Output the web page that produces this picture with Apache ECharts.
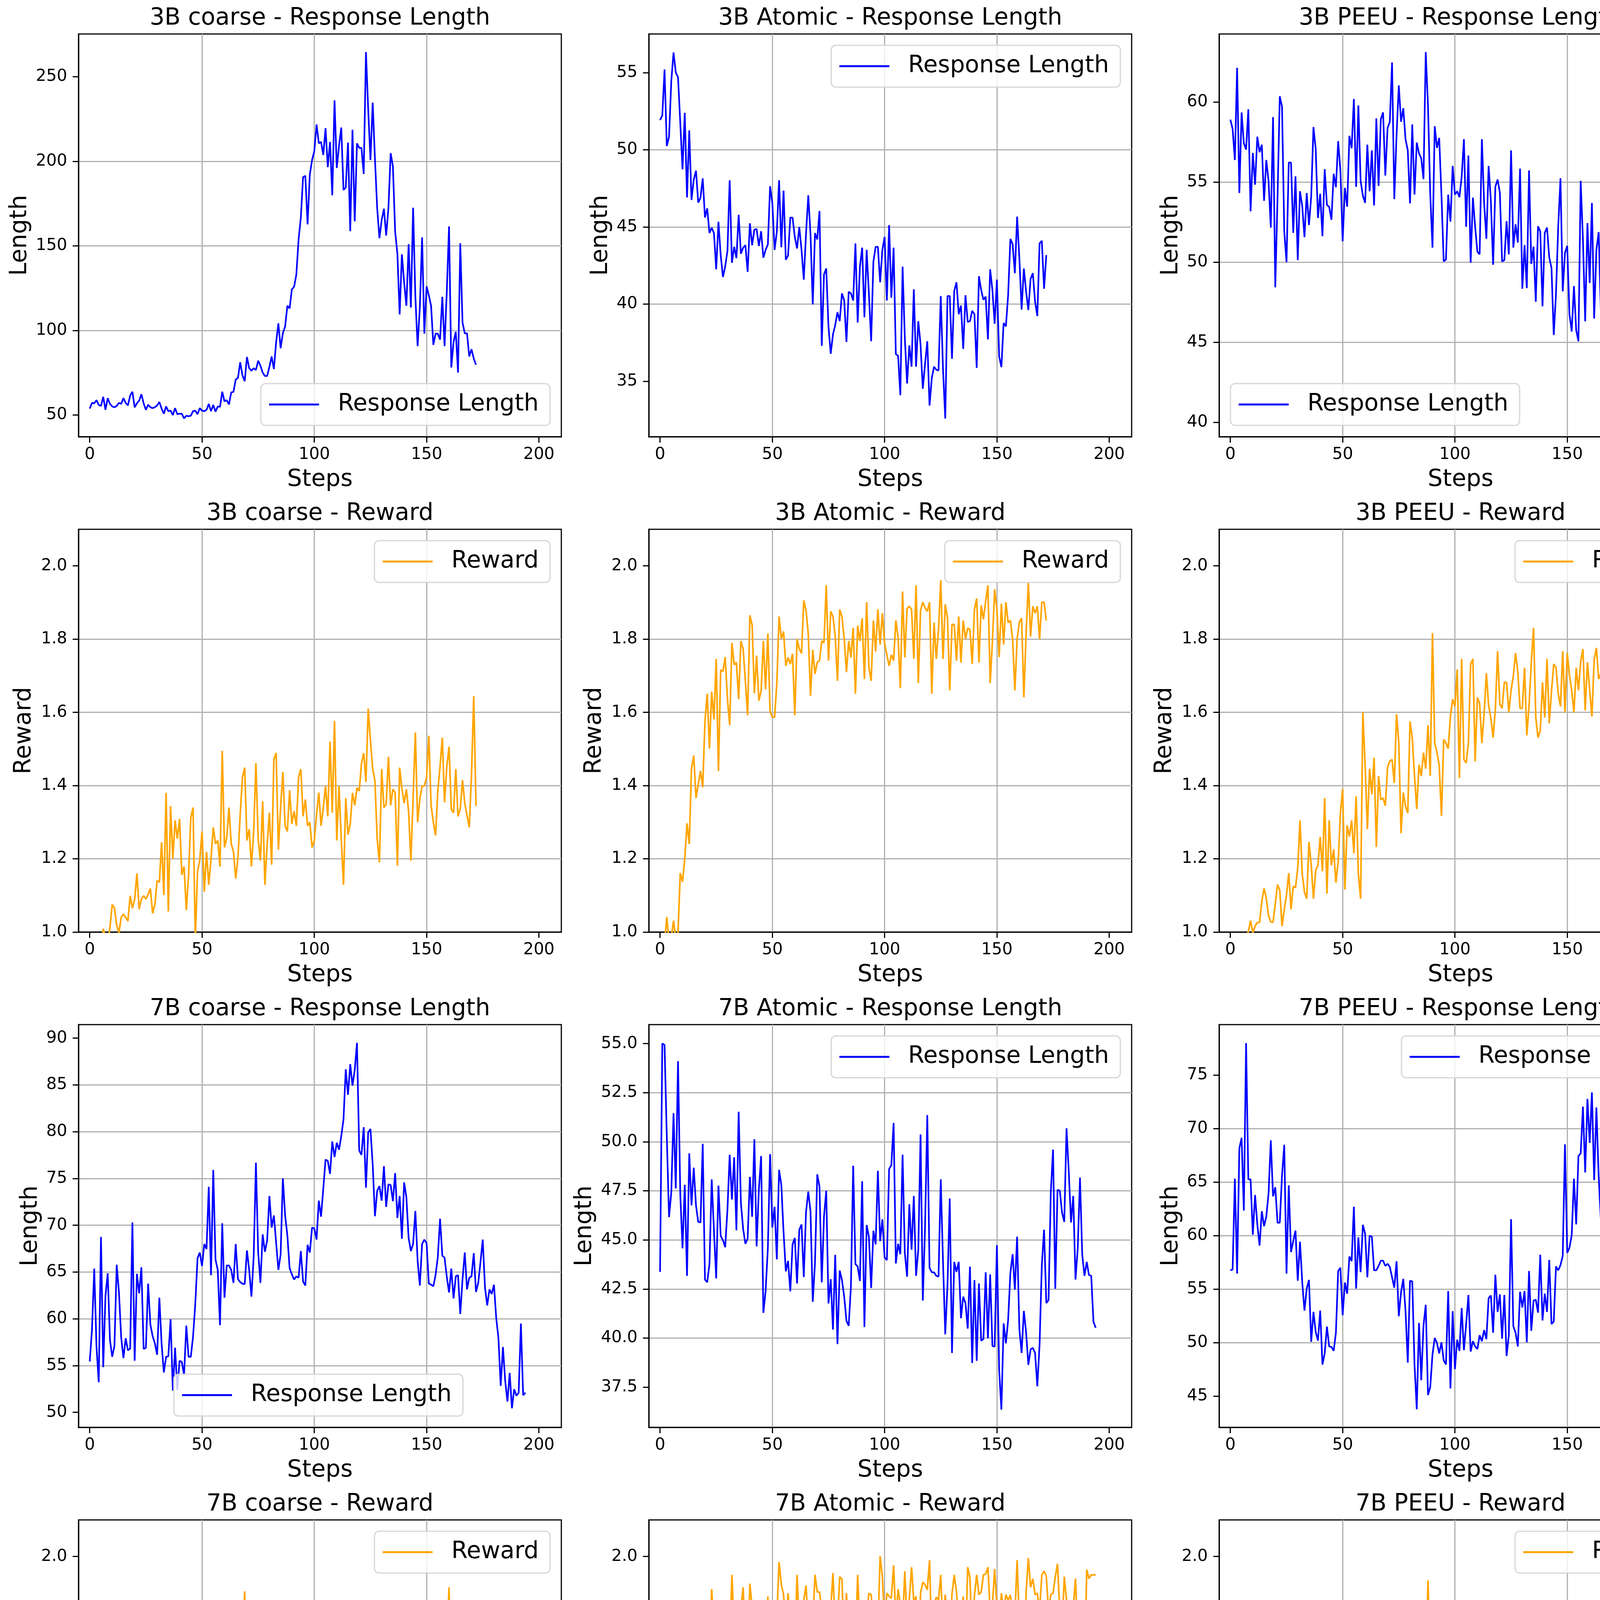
<!DOCTYPE html>
<html>
<head>
<meta charset="utf-8">
<title>Response Length and Reward</title>
<script src="https://cdn.jsdelivr.net/npm/echarts@6/dist/echarts.min.js"></script>
<style>
html, body { margin: 0; padding: 0; background: #fff; }
#main { width: 4374px; height: 5087px; }
</style>
</head>
<body>
<div id="main"></div>
<script>
// values, one entry per training step (x = index)
const rl3bCoarse = [
  53.8,57.2,56.9,58.8,56.0,55.4,60.8,53.1,60.0,56.6,
  55.1,54.6,55.4,57.2,56.6,60.0,57.2,55.7,61.6,63.8,
  54.6,56.9,58.5,62.3,56.9,53.1,56.1,54.6,54.1,54.6,
  55.7,57.7,53.8,50.8,55.1,52.3,52.6,50.0,54.1,50.5,
  50.8,50.8,48.0,49.6,49.3,49.6,52.3,52.6,50.5,54.1,
  52.6,52.3,53.1,56.6,52.3,56.0,52.0,55.1,54.8,63.8,
  58.1,58.8,56.3,63.4,63.7,71.0,72.0,81.2,73.5,70.0,
  84.3,77.7,76.2,77.7,76.6,82.1,79.2,75.1,73.1,73.1,
  78.5,84.6,77.2,93.0,104.2,89.5,98.4,102.3,114.6,113.0,
  124.3,125.8,133.0,153.8,166.8,190.6,191.4,162.7,192.2,200.7,
  206.0,221.7,210.6,211.4,203.7,219.6,196.5,211.4,179.9,236.0,
  196.0,209.1,219.9,183.0,184.5,211.0,158.7,218.6,164.5,210.6,
  207.9,207.9,192.5,264.5,230.6,200.7,234.6,201.5,172.2,154.5,
  165.3,171.9,156.1,172.2,204.8,196.9,158.4,145.3,109.5,144.9,
  128.4,114.6,151.0,113.5,172.5,119.9,90.7,113.8,155.0,98.1,
  126.1,120.7,114.6,91.5,98.1,98.1,94.6,119.9,90.7,123.0,
  161.5,78.1,93.0,99.2,75.1,151.5,104.7,98.3,98.3,84.6,
  88.9,83.4,79.7
];
const rl3bAtomic = [
  51.92,52.22,55.2,50.24,50.83,54.44,56.3,55.0,54.7,51.75,
  48.73,52.39,46.91,51.25,46.74,48.05,48.64,46.57,46.88,48.14,
  45.61,46.2,44.6,44.94,44.6,42.25,45.33,43.17,41.75,42.42,
  43.43,48.02,42.67,43.71,42.97,45.78,43.26,43.65,43.81,42.08,
  45.23,43.81,44.82,44.86,43.76,44.72,43.0,43.51,43.85,47.63,
  46.54,43.51,44.69,48.02,43.68,47.35,42.87,43.14,45.6,45.6,
  44.35,43.6,44.99,43.51,41.58,44.55,47.04,44.52,39.98,44.6,
  44.18,46.03,37.29,41.91,42.3,38.55,36.78,38.04,38.63,39.47,
  38.89,40.69,40.23,37.54,40.79,40.69,40.23,43.93,38.8,42.42,
  43.65,39.14,43.51,40.65,37.59,42.75,43.71,43.71,41.41,43.51,
  44.35,40.23,45.11,40.4,43.65,36.75,36.65,34.09,42.42,37.79,
  34.85,37.32,35.94,40.95,35.94,38.89,37.37,34.51,36.11,37.59,
  33.42,35.19,35.94,35.74,35.69,40.52,35.77,32.58,40.52,40.52,
  36.45,40.85,41.41,39.34,39.9,37.09,40.57,38.84,38.89,39.56,
  39.34,35.86,41.8,40.9,40.28,40.48,37.71,42.25,40.9,38.72,
  41.58,36.61,35.91,38.77,38.55,40.57,44.22,43.88,42.0,45.66,
  42.97,39.64,42.3,40.82,39.61,41.63,42.0,40.15,39.22,43.93,
  44.1,40.99,43.17
];
const rl3bPeeu = [
  58.9,58.33,56.38,62.14,54.32,59.35,57.44,57.03,59.55,53.18,
  56.82,54.84,57.84,56.87,57.34,53.83,56.38,55.08,52.16,59.06,
  48.43,54.03,60.36,59.71,51.92,50.0,56.22,56.22,51.83,55.36,
  50.13,54.43,53.51,51.56,54.32,52.32,54.11,58.44,57.08,52.76,
  54.27,51.62,55.81,53.57,53.46,52.65,55.52,54.68,57.56,55.73,
  51.3,54.64,53.46,57.89,57.11,60.19,54.71,59.79,55.08,54.16,
  53.7,57.34,54.43,56.98,53.54,58.98,54.76,58.93,59.35,55.41,
  58.38,58.77,62.47,53.94,57.92,61.04,58.77,59.61,57.68,56.98,
  53.67,58.6,54.22,57.47,56.79,56.49,55.19,63.12,59.79,54.27,
  50.91,58.49,57.14,57.76,54.19,50.05,50.16,54.22,52.53,56.01,
  54.22,54.43,54.06,55.32,57.68,52.21,56.66,49.97,54.03,52.21,
  50.65,50.49,57.68,53.7,51.46,56.01,53.83,49.84,54.71,55.16,
  54.35,50.05,50.13,52.56,50.49,56.98,50.91,52.37,51.23,55.84,
  48.34,51.07,48.38,55.73,49.89,50.97,47.53,52.24,51.92,47.24,
  51.83,52.16,50.29,49.64,45.45,48.02,52.24,55.24,48.18,50.58,
  51.02,46.75,45.67,48.51,45.75,45.06,55.08,51.43,46.31,52.44,
  48.7,53.7,46.48,50.78,51.88,46.85,49.35,52.27,55.0,47.89,
  48.38,51.51,45.18,50.54,48.1,51.4,44.69,47.21,42.79,44.16,
  43.02,45.71,43.67,45.5,45.02,43.83,41.93,43.51,41.85,41.53,
  40.26,44.77,46.56,44.12,40.47
];
const rw3bCoarse = [
  0.85,0.88,0.9,0.87,0.95,0.92,1.009,0.987,0.97,1.012,
  1.075,1.065,1.019,0.998,1.04,1.049,1.04,1.03,1.099,1.065,
  1.089,1.16,1.062,1.09,1.099,1.09,1.103,1.119,1.051,1.075,
  1.14,1.136,1.245,1.101,1.38,1.056,1.344,1.2,1.305,1.255,
  1.309,1.156,1.179,1.06,1.154,1.312,1.34,0.98,1.165,1.197,
  1.275,1.11,1.219,1.129,1.2,1.286,1.241,1.25,1.179,1.495,
  1.231,1.257,1.34,1.241,1.219,1.146,1.204,1.321,1.423,1.449,
  1.25,1.281,1.179,1.275,1.461,1.254,1.195,1.357,1.129,1.239,
  1.326,1.184,1.472,1.489,1.225,1.342,1.437,1.289,1.275,1.387,
  1.295,1.33,1.29,1.423,1.445,1.316,1.362,1.29,1.3,1.231,
  1.25,1.321,1.381,1.29,1.339,1.399,1.316,1.52,1.326,1.577,
  1.25,1.399,1.254,1.129,1.366,1.266,1.295,1.38,1.346,1.394,
  1.385,1.46,1.489,1.41,1.61,1.524,1.445,1.413,1.254,1.19,
  1.445,1.34,1.349,1.479,1.346,1.39,1.381,1.181,1.449,1.392,
  1.352,1.39,1.328,1.195,1.367,1.545,1.3,1.364,1.399,1.399,
  1.423,1.536,1.346,1.3,1.264,1.387,1.452,1.531,1.354,1.452,
  1.506,1.335,1.326,1.445,1.316,1.337,1.415,1.352,1.318,1.286,
  1.431,1.644,1.344
];
const rw3bAtomic = [
  0.93,0.96,0.97,1.041,0.97,0.985,1.031,0.98,1.0,1.161,
  1.137,1.201,1.297,1.24,1.446,1.482,1.366,1.403,1.44,1.395,
  1.577,1.651,1.501,1.656,1.581,1.746,1.44,1.716,1.712,1.751,
  1.638,1.565,1.79,1.73,1.736,1.636,1.795,1.773,1.684,1.592,
  1.865,1.838,1.652,1.755,1.632,1.658,1.795,1.663,1.815,1.602,
  1.587,1.587,1.68,1.862,1.801,1.821,1.727,1.75,1.732,1.76,
  1.592,1.8,1.773,1.761,1.906,1.878,1.815,1.645,1.771,1.705,
  1.737,1.741,1.795,1.79,1.947,1.741,1.876,1.862,1.807,1.686,
  1.881,1.862,1.801,1.71,1.795,1.75,1.831,1.651,1.837,1.795,
  1.857,1.691,1.901,1.723,1.686,1.851,1.766,1.881,1.785,1.871,
  1.788,1.757,1.727,1.757,1.741,1.851,1.805,1.666,1.93,1.75,
  1.883,1.89,1.881,1.746,1.947,1.68,1.878,1.901,1.885,1.876,
  1.901,1.651,1.845,1.746,1.826,1.961,1.746,1.895,1.857,1.66,
  1.84,1.84,1.741,1.862,1.736,1.851,1.8,1.83,1.826,1.732,
  1.881,1.911,1.736,1.892,1.854,1.904,1.947,1.68,1.794,1.936,
  1.881,1.751,1.897,1.785,1.901,1.845,1.851,1.8,1.66,1.8,
  1.847,1.857,1.641,1.814,1.954,1.807,1.89,1.871,1.89,1.8,
  1.901,1.901,1.851
];
const rw3bPeeu = [
  0.95,0.9,0.93,0.96,0.92,0.97,0.95,0.98,1.002,1.031,
  0.998,1.016,1.026,1.026,1.084,1.119,1.092,1.045,1.027,1.027,
  1.077,1.13,1.114,1.016,1.062,1.102,1.161,1.062,1.125,1.121,
  1.176,1.305,1.158,1.109,1.091,1.246,1.183,1.091,1.169,1.183,
  1.26,1.166,1.366,1.105,1.305,1.182,1.226,1.135,1.192,1.325,
  1.391,1.116,1.291,1.261,1.305,1.215,1.371,1.158,1.091,1.6,
  1.457,1.281,1.446,1.376,1.476,1.232,1.426,1.361,1.366,1.345,
  1.45,1.467,1.471,1.407,1.595,1.517,1.27,1.381,1.343,1.325,
  1.575,1.53,1.426,1.336,1.457,1.426,1.49,1.446,1.565,1.426,
  1.817,1.516,1.49,1.455,1.317,1.526,1.516,1.501,1.589,1.636,
  1.616,1.717,1.421,1.746,1.471,1.462,1.516,1.732,1.746,1.466,
  1.641,1.624,1.516,1.598,1.707,1.619,1.584,1.531,1.609,1.767,
  1.622,1.611,1.682,1.682,1.6,1.66,1.7,1.762,1.71,1.611,
  1.611,1.722,1.537,1.617,1.736,1.831,1.586,1.531,1.551,1.682,
  1.586,1.746,1.57,1.658,1.732,1.723,1.651,1.616,1.767,1.6,
  1.762,1.702,1.66,1.6,1.722,1.66,1.739,1.773,1.605,1.737,
  1.66,1.589,1.744,1.776,1.691,1.707,1.594,1.501,1.547,1.485,
  1.624,1.737,1.892,1.686,1.773,1.712,1.767,1.646,1.831,1.575,
  1.781,1.66,1.624,1.632,1.76,1.619,1.845,1.619,1.812,1.589,
  1.751,1.67,1.741,1.565,1.632
];
const rl7bCoarse = [
  55.44,58.85,65.37,57.05,53.22,68.75,54.83,62.46,64.87,57.74,
  55.94,57.1,65.78,62.87,58.02,55.8,57.93,56.63,56.82,70.3,
  55.52,64.81,62.73,65.51,56.77,56.91,63.76,59.4,58.16,57.38,
  56.16,62.26,57.32,54.27,55.94,55.99,59.96,52.33,56.91,52.39,
  55.52,55.38,53.99,59.27,55.94,55.94,58.1,61.62,66.48,67.09,
  65.64,68.0,67.45,74.11,64.67,75.91,66.34,65.23,59.32,70.22,
  62.26,65.7,65.7,65.23,63.84,68.0,64.26,63.92,63.76,63.7,
  67.31,65.23,62.37,66.62,76.69,67.17,63.84,69.03,67.17,68.36,
  73.13,69.75,71.05,68.14,65.23,66.89,75.02,71.05,68.92,65.42,
  64.76,64.2,64.54,64.4,67.25,63.98,63.56,67.92,67.09,69.75,
  69.67,68.47,72.63,70.92,73.91,77.02,76.88,75.49,78.96,77.3,
  78.82,78.07,79.51,81.32,86.67,83.95,87.23,84.92,86.59,89.5,
  77.99,77.52,80.49,74.02,79.93,80.29,76.52,70.97,73.69,74.19,
  72.63,76.32,71.97,74.38,74.3,72.58,75.58,70.78,73.13,68.56,
  74.58,73.0,68.64,67.25,68.0,71.53,66.2,63.56,68.0,68.47,
  68.09,63.76,63.65,63.48,64.67,66.62,70.69,66.75,66.53,64.48,
  62.82,65.37,62.18,64.54,64.67,60.51,64.2,67.09,63.15,64.4,
  64.54,67.03,62.87,63.84,66.06,68.47,63.37,61.43,63.15,62.65,
  63.65,60.1,57.93,52.83,56.99,53.38,51.16,54.22,50.44,52.47,
  51.78,52.11,59.49,51.83,52.11
];
const rl7bAtomic = [
  43.37,55.01,54.93,50.27,46.16,47.42,51.46,47.62,54.11,47.35,
  44.57,47.81,43.17,49.41,46.76,48.68,46.76,45.92,45.89,49.9,
  42.98,42.84,43.77,48.08,45.47,43.04,47.77,45.2,44.99,44.63,
  46.53,49.34,47.06,49.21,45.49,51.53,46.89,45.56,44.8,45.07,
  48.21,46.18,50.13,44.67,47.55,49.27,41.28,42.38,44.57,49.37,
  45.63,46.69,44.01,48.57,47.81,45.39,43.4,43.93,42.38,44.77,
  45.1,42.78,45.52,45.79,43.11,46.42,47.46,46.45,41.85,43.84,
  48.34,47.72,42.84,46.18,47.51,41.76,43.0,40.43,44.24,39.69,
  43.44,42.95,42.11,40.88,40.62,42.64,48.78,43.77,43.64,42.91,
  47.99,40.56,45.76,45.16,42.55,45.47,44.77,48.52,44.94,46.05,
  44.1,43.97,48.61,48.81,50.96,43.8,44.8,44.27,49.34,44.33,
  43.13,46.82,44.5,47.24,43.17,44.5,50.37,41.91,45.63,51.36,
  43.57,43.35,43.35,43.17,43.13,48.08,43.9,40.19,42.71,47.11,
  39.24,43.88,43.37,43.88,41.01,42.11,41.78,40.48,43.64,38.73,
  42.95,38.84,42.78,39.86,39.95,43.35,39.99,43.24,39.6,39.56,
  44.73,38.4,36.35,40.75,39.73,40.92,43.31,44.27,42.47,45.16,
  40.46,39.24,41.38,40.3,38.63,39.42,39.5,39.24,37.54,39.66,
  43.7,45.52,41.78,41.94,47.42,49.6,42.51,47.55,47.51,46.4,
  45.92,50.69,48.48,45.89,47.24,42.98,44.57,48.17,44.24,43.17,
  43.88,43.21,43.17,40.83,40.52
];
const rl7bPeeu = [
  56.76,56.83,65.32,56.45,68.16,69.13,62.34,77.98,65.25,65.25,
  60.08,63.79,61.05,59.07,62.27,60.88,61.78,63.92,68.89,63.67,
  64.52,61.2,61.2,65.61,68.48,56.45,64.69,58.46,59.5,60.47,
  55.79,59.43,55.67,53.0,55.06,55.86,50.09,52.88,51.01,50.21,
  53.0,47.96,49.0,51.5,49.65,49.61,49.24,50.94,56.69,57.0,
  52.56,55.62,54.58,58.05,57.61,62.7,55.06,59.84,56.59,61.01,
  60.16,56.11,59.99,59.91,56.76,56.76,57.17,57.66,57.66,57.17,
  57.37,57.08,56.11,55.14,57.61,52.47,54.7,55.96,52.95,48.15,
  55.79,55.72,47.96,43.79,51.84,46.5,51.6,53.54,45.12,45.85,
  48.88,50.45,49.97,49.0,50.04,48.35,47.96,54.82,45.73,52.95,
  47.54,50.28,49.24,53.24,49.31,51.74,54.46,49.17,50.14,49.65,
  49.41,50.7,50.14,51.18,50.33,54.17,54.41,50.94,56.35,52.88,
  54.51,50.38,54.46,48.76,50.7,61.54,51.55,50.94,49.65,54.75,
  53.29,54.82,50.04,56.69,51.11,53.92,54.02,52.81,58.22,52.08,
  54.58,52.88,57.73,51.74,51.98,57.12,56.76,57.25,58.09,68.52,
  58.39,58.87,60.04,65.32,61.05,67.43,67.68,72.04,65.9,72.77,
  68.65,73.37,65.18,71.97,65.61,61.37,61.73,64.04,61.3,63.87,
  60.88,62.58,53.37,61.68,57.37,61.98,56.45,53.92,52.27,54.34,
  56.28,62.22,60.76,56.69,59.67,65.66,63.38,60.76,60.08,64.52,
  61.49,68.28,70.17,64.76,69.86
];
const rw7bCoarse = [
  1.064,1.137,1.169,1.11,1.169,1.162,1.222,1.245,1.314,1.188,
  1.176,1.209,1.286,1.171,1.316,1.408,1.365,1.365,1.391,1.365,
  1.58,1.513,1.391,1.585,1.502,1.36,1.506,1.566,1.576,1.517,
  1.41,1.446,1.499,1.63,1.58,1.6,1.767,1.536,1.62,1.598,
  1.522,1.538,1.6,1.509,1.625,1.646,1.655,1.488,1.481,1.751,
  1.593,1.531,1.611,1.536,1.561,1.497,1.424,1.513,1.591,1.715,
  1.621,1.577,1.616,1.522,1.696,1.325,1.474,1.687,1.76,1.905,
  1.563,1.514,1.595,1.776,1.77,1.625,1.559,1.509,1.737,1.696,
  1.776,1.6,1.685,1.591,1.59,1.554,1.602,1.654,1.669,1.576,
  1.746,1.635,1.682,1.585,1.696,1.604,1.6,1.55,1.646,1.446,
  1.746,1.719,1.62,1.796,1.722,1.5,1.609,1.701,1.705,1.786,
  1.531,1.625,1.36,1.58,1.476,1.621,1.666,1.495,1.77,1.751,
  1.786,1.597,1.685,1.651,1.845,1.651,1.675,1.746,1.486,1.786,
  1.732,1.571,1.486,1.563,1.803,1.845,1.678,1.502,1.476,1.632,
  1.69,1.597,1.69,1.669,1.669,1.73,1.713,1.495,1.737,1.517,
  1.536,1.512,1.609,1.671,1.571,1.637,1.79,1.648,1.522,1.744,
  1.916,1.509,1.593,1.765,1.666,1.791,1.845,1.6,1.644,1.63,
  1.836,1.742,1.694,1.607,1.741,1.495,1.666,1.609,1.831,1.71,
  1.791,1.661,1.644,1.73,1.649,1.705,1.685,1.371,1.701,1.635,
  1.845,1.786,1.685,1.635,1.58
];
const rw7bAtomic = [
  1.419,1.481,1.545,1.666,1.52,1.591,1.391,1.76,1.739,1.621,
  1.635,1.621,1.805,1.76,1.841,1.722,1.605,1.722,1.765,1.715,
  1.881,1.769,1.715,1.911,1.801,1.805,1.685,1.824,1.875,1.834,
  1.786,1.751,1.95,1.796,1.845,1.817,1.859,1.916,1.749,1.726,
  1.926,1.861,1.661,1.881,1.848,1.786,1.841,1.671,1.891,1.717,
  1.722,1.822,1.836,1.985,1.923,1.896,1.801,1.9,1.804,1.784,
  1.74,1.95,1.817,1.825,1.881,1.921,1.808,1.751,1.818,1.95,
  1.903,1.903,1.857,1.74,1.845,1.726,1.857,1.955,1.805,1.818,
  1.945,1.938,1.751,1.9,1.786,1.869,1.847,1.76,1.95,1.801,
  1.85,1.85,1.841,1.9,1.896,1.82,1.796,1.803,2.001,1.945,
  1.82,1.9,1.891,1.886,1.976,1.829,1.911,1.868,1.82,1.96,
  1.81,1.884,1.971,1.876,1.891,1.715,1.9,1.93,1.923,1.909,
  1.99,1.77,1.868,1.889,1.881,1.95,1.79,1.896,1.801,1.746,
  1.898,1.95,1.903,1.825,1.84,1.891,1.756,1.971,1.942,1.76,
  1.893,1.95,1.896,1.903,1.95,1.952,1.971,1.85,1.868,1.966,
  1.864,1.796,1.9,1.845,1.896,1.881,1.895,1.845,1.836,1.99,
  1.817,1.864,1.685,1.902,1.996,1.916,1.939,1.896,1.9,1.85,
  1.95,1.96,1.946,1.85,1.896,1.9,1.945,1.98,1.848,1.801,
  1.945,1.881,1.832,1.797,1.861,1.94,1.781,1.881,1.847,1.671,
  1.964,1.94,1.95,1.95,1.95
];
const rw7bPeeu = [
  1.211,1.066,1.2,1.22,1.22,1.264,1.195,1.294,1.35,1.293,
  1.105,1.31,1.429,1.33,1.399,1.469,1.405,1.509,1.375,1.431,
  1.599,1.527,1.38,1.476,1.509,1.461,1.685,1.648,1.424,1.585,
  1.585,1.609,1.526,1.605,1.582,1.644,1.73,1.5,1.661,1.541,
  1.514,1.635,1.63,1.68,1.599,1.726,1.74,1.661,1.671,1.786,
  1.781,1.59,1.637,1.875,1.604,1.514,1.751,1.616,1.584,1.836,
  1.641,1.655,1.54,1.584,1.756,1.495,1.776,1.605,1.706,1.753,
  1.805,1.805,1.616,1.648,1.841,1.763,1.63,1.74,1.559,1.79,
  1.751,1.805,1.649,1.758,1.79,1.605,1.831,1.69,1.935,1.68,
  1.869,1.701,1.72,1.675,1.536,1.706,1.609,1.779,1.855,1.715,
  1.77,1.77,1.436,1.864,1.575,1.68,1.661,1.776,1.861,1.58,
  1.68,1.664,1.585,1.63,1.81,1.803,1.69,1.712,1.761,1.801,
  1.797,1.701,1.77,1.758,1.661,1.756,1.751,1.85,1.781,1.62,
  1.72,1.831,1.649,1.685,1.69,1.867,1.609,1.609,1.655,1.701,
  1.675,1.817,1.805,1.71,1.715,1.76,1.715,1.595,1.796,1.694,
  1.831,1.71,1.751,1.671,1.811,1.746,1.817,1.685,1.715,1.781,
  1.796,1.73,1.734,1.801,1.801,1.817,1.77,1.616,1.621,1.662,
  1.74,1.848,1.891,1.786,1.756,1.761,1.831,1.815,1.881,1.705,
  1.867,1.73,1.796,1.781,1.881,1.74,1.841,1.625,1.869,1.641,
  1.861,1.761,1.79,1.725,1.747
];

// tick labels
const stepTicks = [0, 50, 100, 150, 200];
const rewardTicks = [1.0, 1.2, 1.4, 1.6, 1.8, 2.0];
const len3bCoarseTicks = [50, 100, 150, 200, 250];
const len3bAtomicTicks = [35, 40, 45, 50, 55];
const len3bPeeuTicks = [40, 45, 50, 55, 60];
const len7bCoarseTicks = [50, 55, 60, 65, 70, 75, 80, 85, 90];
const len7bAtomicTicks = [37.5, 40.0, 42.5, 45.0, 47.5, 50.0, 52.5, 55.0];
const len7bPeeuTicks = [45, 50, 55, 60, 65, 70, 75];

const titles = [
  '3B coarse - Response Length', '3B Atomic - Response Length', '3B PEEU - Response Length',
  '3B coarse - Reward', '3B Atomic - Reward', '3B PEEU - Reward',
  '7B coarse - Response Length', '7B Atomic - Response Length', '7B PEEU - Response Length',
  '7B coarse - Reward', '7B Atomic - Reward', '7B PEEU - Reward'
];

// per panel: data, axis limits, ticks, label decimals, legend corner
const panels = [
  { data: rl3bCoarse, kind: 'len', min: 37.2, max: 275.2, step: 50, ticks: len3bCoarseTicks, dec: 0, gap: 120, where: 'lr' },
  { data: rl3bAtomic, kind: 'len', min: 31.4, max: 57.5, step: 5, ticks: len3bAtomicTicks, dec: 0, gap: 93, where: 'ur' },
  { data: rl3bPeeu, kind: 'len', min: 39.1, max: 64.25, step: 5, ticks: len3bPeeuTicks, dec: 0, gap: 93, where: 'll' },
  { data: rw3bCoarse, kind: 'rew', min: 1.0, max: 2.1, step: 0.2, ticks: rewardTicks, dec: 1, gap: 109, where: 'ur' },
  { data: rw3bAtomic, kind: 'rew', min: 1.0, max: 2.1, step: 0.2, ticks: rewardTicks, dec: 1, gap: 109, where: 'ur' },
  { data: rw3bPeeu, kind: 'rew', min: 1.0, max: 2.1, step: 0.2, ticks: rewardTicks, dec: 1, gap: 109, where: 'ur' },
  { data: rl7bCoarse, kind: 'len', min: 48.4, max: 91.45, step: 5, ticks: len7bCoarseTicks, dec: 0, gap: 93, where: 'lc' },
  { data: rl7bAtomic, kind: 'len', min: 35.45, max: 55.97, step: 2.5, ticks: len7bAtomicTicks, dec: 1, gap: 134, where: 'ur' },
  { data: rl7bPeeu, kind: 'len', min: 42.1, max: 79.7, step: 5, ticks: len7bPeeuTicks, dec: 0, gap: 93, where: 'ur' },
  { data: rw7bCoarse, kind: 'rew', min: 1.0, max: 2.1, step: 0.2, ticks: rewardTicks, dec: 1, gap: 109, where: 'ur' },
  { data: rw7bAtomic, kind: 'rew', min: 1.0, max: 2.1, step: 0.2, ticks: rewardTicks, dec: 1, gap: 109, where: 'll' },
  { data: rw7bPeeu, kind: 'rew', min: 1.0, max: 2.1, step: 0.2, ticks: rewardTicks, dec: 1, gap: 109, where: 'ur' }
];

const FONT = 'DejaVu Sans';
const CW = 4374, CH = 5087;
const L0 = 201, T0 = 87, DX = 1460, DY = 1268, W = 1236, H = 1031;
const BIG = 60, SMALL = 42, PAD = 29;

const grid = [], xAxis = [], yAxis = [], series = [], title = [], legend = [];

panels.forEach((p, k) => {
  const col = k % 3, row = Math.floor(k / 3);
  const left = L0 + col * DX, top = T0 + row * DY;
  const isLen = p.kind === 'len';
  const color = isLen ? '#0000ff' : '#ffa500';
  const name = isLen ? 'Response Length' : 'Reward';

  grid.push({
    left: left, top: top, width: W, height: H,
    show: true, backgroundColor: '#fff', borderColor: '#000', borderWidth: 3,
    containLabel: false, outerBoundsMode: 'none'
  });

  xAxis.push({
    gridIndex: k, type: 'value', min: -5, max: 210,
    minInterval: 50, maxInterval: 50,
    name: 'Steps', nameLocation: 'middle', nameGap: 80,
    nameTextStyle: { fontFamily: FONT, fontSize: BIG, color: '#000', lineHeight: 60 },
    axisLine: { show: true, onZero: false, lineStyle: { color: '#000', width: 3 } },
    axisTick: { show: true, inside: false, length: 15, customValues: stepTicks,
      lineStyle: { color: '#000', width: 3 } },
    axisLabel: { show: true, customValues: stepTicks, margin: 25,
      fontFamily: FONT, fontSize: SMALL, color: '#000',
      formatter: v => (v % 50 === 0 ? String(v) : '') },
    splitLine: { show: true, showMinLine: false, showMaxLine: false,
      lineStyle: { color: '#b0b0b0', width: 3 } }
  });

  yAxis.push({
    gridIndex: k, type: 'value', min: p.min, max: p.max,
    minInterval: p.step, maxInterval: p.step,
    name: isLen ? 'Length' : 'Reward', nameLocation: 'middle', nameGap: p.gap,
    nameTextStyle: { fontFamily: FONT, fontSize: BIG, color: '#000', lineHeight: 60 },
    axisLine: { show: true, onZero: false, lineStyle: { color: '#000', width: 3 } },
    axisTick: { show: true, inside: false, length: 15, customValues: p.ticks,
      lineStyle: { color: '#000', width: 3 } },
    axisLabel: { show: true, customValues: p.ticks, margin: 29,
      fontFamily: FONT, fontSize: SMALL, color: '#000',
      formatter: v => v.toFixed(p.dec) },
    splitLine: { show: true, showMinLine: false, showMaxLine: false,
      lineStyle: { color: '#b0b0b0', width: 3 } }
  });

  series.push({
    type: 'line', name: name, xAxisIndex: k, yAxisIndex: k,
    data: p.data.map((v, i) => [i, v]),
    showSymbol: false, symbol: 'none', clip: true,
    color: color,
    itemStyle: { color: color },
    lineStyle: { color: color, width: 4.2 },
    emphasis: { disabled: true },
    animation: false
  });

  title.push({
    text: titles[k], left: left + W / 2, top: top - 70,
    textAlign: 'center', textVerticalAlign: 'top', padding: 0,
    textStyle: { fontFamily: FONT, fontSize: BIG, fontWeight: 'normal', color: '#000', lineHeight: 60 }
  });

  const boxW = isLen ? 748 : 450, boxH = 107;
  const lg = {
    data: [name], orient: 'horizontal', selectedMode: false,
    icon: 'rect', itemWidth: 128, itemHeight: 5,
    itemStyle: { color: color, borderWidth: 0 },
    padding: [23.5, 29, 23.5, 21],
    backgroundColor: 'rgba(255,255,255,0.8)',
    borderColor: '#d6d6d6', borderWidth: 3, borderRadius: 12,
    textStyle: { fontFamily: FONT, fontSize: BIG, color: '#000', lineHeight: 60, padding: [0, 0, 0, 43] }
  };
  if (p.where[1] === 'r') lg.right = CW - (left + W - PAD);
  else if (p.where[1] === 'l') lg.left = left + PAD;
  else lg.left = left + (W - boxW) / 2;
  if (p.where[0] === 'u') lg.top = top + PAD;
  else lg.bottom = CH - (top + H - PAD);
  legend.push(lg);
});

const chart = echarts.init(document.getElementById('main'), null, { renderer: 'canvas' });
chart.setOption({
  backgroundColor: '#fff',
  animation: false,
  textStyle: { fontFamily: FONT },
  title: title,
  legend: legend,
  grid: grid,
  xAxis: xAxis,
  yAxis: yAxis,
  series: series
});
</script>
</body>
</html>
